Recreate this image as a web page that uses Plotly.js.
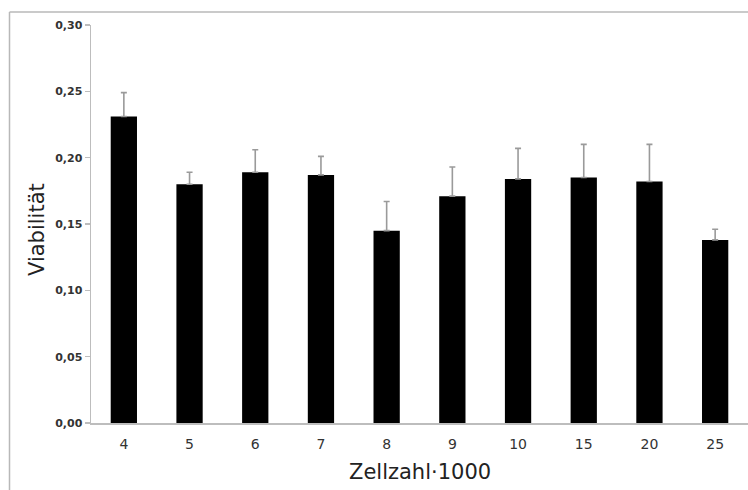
<!DOCTYPE html>
<html>
<head>
<meta charset="utf-8">
<script src="https://cdn.plot.ly/plotly-3.0.1.min.js"></script>
<style>html,body{margin:0;padding:0;background:#fff;}#chart{width:748px;height:490px;}</style>
</head>
<body>
<div id="chart"></div>
<script>
const categories = ["4", "5", "6", "7", "8", "9", "10", "15", "20", "25"];
const viability = [0.231, 0.180, 0.189, 0.187, 0.145, 0.171, 0.184, 0.185, 0.182, 0.138];
const errorUpper = [0.018, 0.009, 0.017, 0.014, 0.022, 0.022, 0.023, 0.025, 0.028, 0.008];
const errorLower = [0, 0, 0, 0, 0, 0, 0, 0, 0, 0];
const yTicks = [0, 0.05, 0.10, 0.15, 0.20, 0.25, 0.30];
const xTitle = 'Zellzahl·1000';
const yTitle = 'Viabilität';

const W = 748, H = 490;
const mL = 91, mR = 0, mT = 25, mB = 67;
const pw = W - mL - mR, ph = H - mT - mB;
const px = v => (v - mL) / pw;           // pixel x -> paper x
const py = v => (H - mB - v) / ph;       // pixel y -> paper y

const trace = {
  type: 'bar',
  x: categories,
  y: viability,
  marker: {color: '#000000', line: {width: 0}},
  error_y: {
    type: 'data', symmetric: false,
    array: errorUpper, arrayminus: errorLower,
    color: '#9a9a9a', thickness: 1.6, width: 3
  },
  hoverinfo: 'none'
};

const layout = {
  width: W, height: H,
  margin: {l: mL, r: mR, t: mT, b: mB, pad: 0},
  paper_bgcolor: '#ffffff', plot_bgcolor: '#ffffff',
  separators: ',.',
  showlegend: false,
  bargap: 0.6,
  font: {family: 'DejaVu Sans, Verdana, sans-serif', color: '#333333'},
  xaxis: {
    type: 'category',
    showline: true, linecolor: '#bdbdbd', linewidth: 1.5,
    ticks: 'outside', ticklen: 8, tickcolor: 'rgba(0,0,0,0)',
    showgrid: false, zeroline: false,
    tickfont: {size: 14, color: '#333333'}
  },
  yaxis: {
    range: [0, 0.30],
    tickvals: yTicks, tickformat: '.2f',
    showline: true, linecolor: '#bdbdbd', linewidth: 1.5,
    ticks: 'outside', ticklen: 5, tickcolor: '#bdbdbd', tickwidth: 1.5,
    showgrid: false, zeroline: false,
    tickfont: {size: 11, color: '#333333', weight: 'bold'}
  },
  annotations: [
    {text: xTitle, xref: 'paper', yref: 'paper', x: px(420), y: py(472),
     xanchor: 'center', yanchor: 'middle', showarrow: false,
     font: {size: 21, color: '#222222'}},
    {text: yTitle, xref: 'paper', yref: 'paper', x: px(37), y: py(230),
     xanchor: 'center', yanchor: 'middle', showarrow: false, textangle: -90,
     font: {size: 21, color: '#222222'}}
  ],
  shapes: [
    {type: 'line', xref: 'paper', yref: 'paper',
     x0: px(9.5), x1: px(9.5), y0: py(12), y1: py(H),
     line: {color: '#b8b8b8', width: 1.5}},
    {type: 'line', xref: 'paper', yref: 'paper',
     x0: px(9.5), x1: px(W), y0: py(12), y1: py(12),
     line: {color: '#b8b8b8', width: 1.5}}
  ]
};

Plotly.newPlot('chart', [trace], layout, {staticPlot: true, displayModeBar: false});
</script>
</body>
</html>
